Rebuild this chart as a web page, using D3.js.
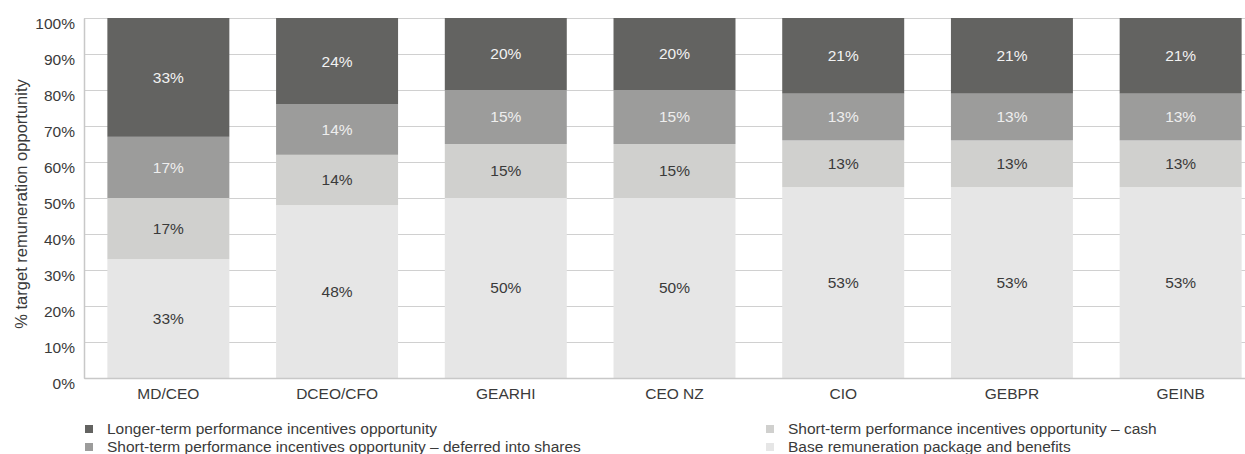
<!DOCTYPE html>
<html>
<head>
<meta charset="utf-8">
<script src="https://cdn.jsdelivr.net/npm/d3@7/dist/d3.min.js"></script>
<style>
  body { margin: 0; background: #fff; }
  svg { display: block; font-family: "Liberation Sans", Arial, sans-serif; }
</style>
</head>
<body>
<div id="chart"></div>
<script>
const categories = ['MD/CEO', 'DCEO/CFO', 'GEARHI', 'CEO NZ', 'CIO', 'GEBPR', 'GEINB'];
const baseValues = [33, 48, 50, 50, 53, 53, 53];
const cashValues = [17, 14, 15, 15, 13, 13, 13];
const deferredValues = [17, 14, 15, 15, 13, 13, 13];
const longTermValues = [33, 24, 20, 20, 21, 21, 21];
const yTicks = [0, 10, 20, 30, 40, 50, 60, 70, 80, 90, 100];

const seriesNames = [
  'Base remuneration package and benefits',
  'Short-term performance incentives opportunity – cash',
  'Short-term performance incentives opportunity – deferred into shares',
  'Longer-term performance incentives opportunity'
];
const seriesKeys = ['base', 'cash', 'deferred', 'longTerm'];
const colors = ['#e6e6e6', '#d0d0ce', '#9c9c9b', '#636361'];
const textColors = ['#3a3a3a', '#3a3a3a', '#eeeeee', '#f2f2f2'];

const table = categories.map((c, i) => ({
  cat: c,
  base: baseValues[i],
  cash: cashValues[i],
  deferred: deferredValues[i],
  longTerm: longTermValues[i]
}));

const width = 1245, height = 454;
const margin = { top: 18, left: 84, bottom: 76 };
const plotRight = 1265;
const fontSize = 15.5;

const svg = d3.select('#chart').append('svg')
  .attr('width', width)
  .attr('height', height);

const x = d3.scaleBand().domain(categories).range([margin.left, plotRight])
  .paddingInner(0.277).paddingOuter(0.1385);
const y = d3.scaleLinear().domain([0, 100]).range([height - margin.bottom, margin.top]);

// gridlines
svg.append('g')
  .selectAll('line')
  .data(yTicks)
  .join('line')
  .attr('x1', margin.left)
  .attr('x2', plotRight)
  .attr('y1', d => y(d) + 0.5)
  .attr('y2', d => y(d) + 0.5)
  .attr('stroke', '#d0d0d0')
  .attr('stroke-width', 1);

const stacked = d3.stack().keys(seriesKeys)(table);

const layers = svg.append('g')
  .selectAll('g')
  .data(stacked)
  .join('g')
  .attr('fill', (d, i) => colors[i]);

layers.selectAll('rect')
  .data(d => d)
  .join('rect')
  .attr('x', d => x(d.data.cat))
  .attr('width', x.bandwidth())
  .attr('y', d => y(d[1]))
  .attr('height', d => y(d[0]) - y(d[1]));

// segment labels
stacked.forEach((layer, li) => {
  svg.append('g')
    .selectAll('text')
    .data(layer)
    .join('text')
    .attr('x', d => x(d.data.cat) + x.bandwidth() / 2)
    .attr('y', d => (y(d[0]) + y(d[1])) / 2)
    .attr('dy', '0.35em')
    .attr('text-anchor', 'middle')
    .attr('font-size', fontSize)
    .attr('fill', textColors[li])
    .text(d => (d[1] - d[0]) + '%');
});

// y axis
const yAxis = svg.append('g')
  .attr('transform', `translate(${margin.left},0)`)
  .call(d3.axisLeft(y).tickValues(yTicks).tickFormat(d => d + '%').tickSize(0).tickPadding(9));
yAxis.select('.domain').attr('stroke', '#c8c8c8').attr('stroke-width', 1.5);
yAxis.selectAll('text')
  .attr('font-size', fontSize)
  .attr('fill', '#3a3a3a')
  .attr('dy', '0.66em')
  .attr('font-family', '"Liberation Sans", Arial, sans-serif');

// x axis
const xAxis = svg.append('g')
  .attr('transform', `translate(0,${height - margin.bottom})`)
  .call(d3.axisBottom(x).tickSize(0).tickPadding(10));
xAxis.select('.domain').attr('stroke', '#c8c8c8').attr('stroke-width', 1.5);
xAxis.selectAll('text')
  .attr('font-size', fontSize)
  .attr('fill', '#3a3a3a')
  .attr('font-family', '"Liberation Sans", Arial, sans-serif');

// y title
svg.append('text')
  .attr('transform', `translate(27,${(y(0) + y(100)) / 2 + 6}) rotate(-90)`)
  .attr('text-anchor', 'middle')
  .attr('font-size', 16.5)
  .attr('fill', '#3a3a3a')
  .text('% target remuneration opportunity');

// legend
const legendItems = [
  { i: 3, x: 85, y: 429 },
  { i: 2, x: 85, y: 447 },
  { i: 1, x: 766, y: 429 },
  { i: 0, x: 766, y: 447 }
];
const legend = svg.append('g')
  .selectAll('g')
  .data(legendItems)
  .join('g')
  .attr('transform', d => `translate(${d.x},${d.y})`);
legend.append('rect')
  .attr('x', 0).attr('y', -4)
  .attr('width', 8).attr('height', 8)
  .attr('fill', d => colors[d.i]);
legend.append('text')
  .attr('x', 22)
  .attr('dy', '0.35em')
  .attr('font-size', fontSize)
  .attr('fill', '#3a3a3a')
  .text(d => seriesNames[d.i]);
</script>
</body>
</html>
